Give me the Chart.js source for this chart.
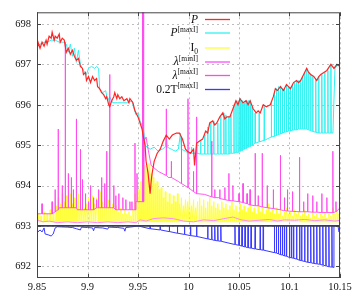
<!DOCTYPE html>
<html lang="en">
<head>
  <meta charset="UTF-8">
  <title>P, I0, lambda and T traces</title>
  <style>
    body { margin: 0; background: #fff; }
    canvas { display: block; }
  </style>
</head>
<body>
  <canvas id="chart" width="357" height="297"></canvas>

  <script src="https://cdn.jsdelivr.net/npm/chart.js"></script>
  <script>
    // axis ticks
    const xTicks = [9.85, 9.9, 9.95, 10, 10.05, 10.1, 10.15];
    const xTickLabels = ['9.85', '9.9', '9.95', '10', '10.05', '10.1', '10.15'];
    const yTicks = [692, 693, 694, 695, 696, 697, 698];

    // P : [x, y]
    const pSeries = [
      [9.850, 697.3], [9.851, 697.55], [9.853, 697.4], [9.855, 697.55], [9.857, 697.45],
      [9.859, 697.6], [9.860, 697.5], [9.862, 697.7], [9.864, 697.65], [9.865, 697.8],
      [9.867, 697.6], [9.868, 697.7], [9.870, 697.65], [9.872, 697.75], [9.873, 697.55],
      [9.875, 697.65], [9.877, 697.6], [9.878, 697.45], [9.879, 697.3], [9.881, 697.4],
      [9.883, 697.25], [9.885, 697.35], [9.887, 697.2], [9.889, 697.1], [9.891, 697.15],
      [9.893, 696.95], [9.895, 696.9], [9.896, 696.75], [9.898, 696.8], [9.899, 696.6],
      [9.901, 696.7], [9.903, 696.55], [9.905, 696.7], [9.907, 696.6], [9.909, 696.65],
      [9.910, 696.45], [9.912, 696.4], [9.914, 696.3], [9.916, 696.25], [9.918, 696.15],
      [9.919, 696.2], [9.921, 696.0], [9.922, 695.95], [9.924, 696.1], [9.926, 696.2],
      [9.927, 696.3], [9.929, 696.15], [9.930, 696.25], [9.932, 696.15], [9.934, 696.2],
      [9.936, 696.1], [9.939, 696.15], [9.941, 696.05], [9.942, 696.15], [9.945, 696.05],
      [9.947, 695.85], [9.950, 695.7], [9.954, 695.4], [9.955, 695.25], [9.957, 695.0],
      [9.958, 694.6], [9.960, 694.3], [9.962, 693.8], [9.963, 694.1], [9.964, 694.3],
      [9.966, 694.6], [9.969, 694.8], [9.972, 694.9], [9.975, 695.1], [9.978, 695.25],
      [9.981, 695.15], [9.984, 695.25], [9.988, 695.3], [9.991, 695.3], [9.994, 695.15],
      [9.997, 694.9], [9.999, 694.85], [10.002, 694.8], [10.005, 694.9], [10.006, 694.5],
      [10.008, 695.05], [10.011, 695.1], [10.014, 695.15], [10.017, 695.35], [10.019, 695.3],
      [10.021, 695.55], [10.024, 695.6], [10.026, 695.5], [10.028, 695.55], [10.031, 695.7],
      [10.034, 695.8], [10.036, 695.65], [10.038, 695.7], [10.041, 695.7], [10.044, 695.9],
      [10.047, 696.1], [10.049, 696.0], [10.051, 696.15], [10.054, 696.05], [10.057, 696.1],
      [10.059, 696.0], [10.061, 696.1], [10.064, 695.9], [10.067, 695.8], [10.069, 695.85],
      [10.071, 695.8], [10.074, 696.0], [10.077, 695.95], [10.081, 696.0], [10.084, 696.2],
      [10.086, 696.4], [10.088, 696.35], [10.091, 696.45], [10.094, 696.35], [10.097, 696.5],
      [10.099, 696.45], [10.101, 696.4], [10.104, 696.55], [10.107, 696.6], [10.109, 696.55],
      [10.111, 696.6], [10.114, 696.75], [10.117, 696.9], [10.119, 696.8], [10.121, 696.75],
      [10.124, 696.7], [10.127, 696.6], [10.129, 696.7], [10.131, 696.75], [10.134, 696.8],
      [10.137, 696.85], [10.141, 697.0], [10.144, 696.9], [10.147, 697.0], [10.150, 696.95]
    ];

    // P[maxI] : track before the spikes, spikes [x, base, top], end track
    const pMaxTrack = [
      [9.850, 697.45], [9.853, 697.5], [9.857, 697.55], [9.860, 697.55], [9.864, 697.6],
      [9.868, 697.6], [9.872, 697.55], [9.876, 697.55], [9.879, 697.5], [9.881, 697.3],
      [9.883, 697.5], [9.885, 697.2], [9.887, 697.4], [9.889, 697.05], [9.891, 697.35],
      [9.893, 697.0], [9.896, 696.85], [9.899, 696.75], [9.901, 696.9], [9.904, 696.95],
      [9.907, 696.9], [9.909, 696.95], [9.911, 696.9], [9.912, 696.4], [9.915, 696.3],
      [9.918, 696.35], [9.920, 696.1], [9.922, 696.2], [9.925, 696.05], [9.930, 696.05],
      [9.935, 696.05], [9.940, 696.05], [9.944, 696.1], [9.946, 695.9], [9.948, 695.75],
      [9.950, 695.8], [9.952, 695.6], [9.954, 695.5], [9.956, 695.3], [9.957, 695.0],
      [9.959, 694.95], [9.962, 694.9], [9.966, 694.95], [9.970, 694.85], [9.974, 694.9],
      [9.977, 694.95], [9.978, 695.25], [9.979, 694.95], [9.983, 694.9], [9.987, 694.85],
      [9.990, 694.9], [9.992, 695.3], [9.993, 694.9], [9.997, 694.85], [10.000, 694.8]
    ];
    const pMaxSpikes = [
      [10.003, 694.8, 694.95], [10.008, 694.8, 695.05], [10.012, 694.78, 695.1], [10.016, 694.78, 695.25],
      [10.019, 694.78, 695.45], [10.022, 694.78, 695.55], [10.025, 694.78, 695.6], [10.029, 694.78, 695.55],
      [10.032, 694.78, 695.7], [10.035, 694.78, 695.8], [10.037, 694.78, 695.75], [10.040, 694.78, 695.7],
      [10.042, 694.8, 695.75], [10.045, 694.8, 696.0], [10.047, 694.82, 696.1], [10.049, 694.82, 696.1],
      [10.051, 694.85, 696.15], [10.053, 694.87, 696.1], [10.055, 694.9, 696.05], [10.057, 694.92, 696.1],
      [10.059, 694.95, 696.1], [10.061, 694.97, 696.1], [10.063, 695.0, 695.95], [10.066, 695.05, 695.8],
      [10.070, 695.08, 695.8], [10.075, 695.12, 695.95], [10.082, 695.2, 696.05], [10.085, 695.22, 696.3],
      [10.087, 695.24, 696.4], [10.089, 695.26, 696.45], [10.091, 695.28, 696.45], [10.093, 695.3, 696.4],
      [10.095, 695.32, 696.4], [10.097, 695.33, 696.5], [10.099, 695.35, 696.45], [10.101, 695.35, 696.4],
      [10.103, 695.37, 696.5], [10.105, 695.38, 696.55], [10.107, 695.38, 696.6], [10.109, 695.4, 696.6],
      [10.111, 695.4, 696.6], [10.113, 695.4, 696.7], [10.115, 695.4, 696.8], [10.117, 695.4, 696.9],
      [10.119, 695.38, 696.8], [10.121, 695.36, 696.75], [10.123, 695.34, 696.7], [10.126, 695.32, 696.65],
      [10.129, 695.3, 696.7], [10.132, 695.3, 696.75], [10.135, 695.3, 696.8], [10.138, 695.3, 696.85],
      [10.141, 695.3, 697.0]
    ];
    const pMaxEnd = [[10.143, 695.3], [10.145, 696.9], [10.148, 697.0], [10.150, 696.95]];

    // I0 : base level and spike tops [x, top]
    const i0Base = 693.1;
    const i0Spikes = [
      [9.851, 693.3], [9.854, 693.25], [9.857, 693.35], [9.860, 693.3], [9.863, 693.4], [9.866, 693.3],
      [9.869, 693.5], [9.871, 693.7], [9.873, 693.55], [9.875, 693.8], [9.877, 693.6], [9.879, 693.75],
      [9.881, 693.5], [9.883, 693.8], [9.885, 693.55], [9.887, 693.7], [9.889, 693.6], [9.891, 693.8],
      [9.893, 693.5], [9.895, 693.6], [9.897, 693.45], [9.899, 693.55], [9.901, 693.7], [9.903, 693.5],
      [9.905, 693.75], [9.907, 693.55], [9.909, 693.7], [9.911, 693.5], [9.913, 693.85], [9.915, 693.6],
      [9.917, 693.7], [9.919, 693.5], [9.921, 693.65], [9.923, 693.45], [9.925, 693.55], [9.927, 693.4],
      [9.929, 693.5], [9.931, 693.35], [9.933, 693.45], [9.935, 693.3], [9.937, 693.4], [9.939, 693.3],
      [9.941, 693.35], [9.943, 693.25], [9.945, 693.4], [9.947, 693.8], [9.949, 693.6], [9.951, 693.9],
      [9.953, 694.1], [9.955, 694.3], [9.957, 694.5], [9.959, 694.4], [9.961, 694.55], [9.963, 694.3],
      [9.965, 694.2], [9.967, 694.05], [9.969, 694.1], [9.971, 693.9], [9.973, 693.95], [9.975, 693.7],
      [9.977, 693.85], [9.979, 693.6], [9.981, 693.8], [9.983, 693.55], [9.985, 693.75], [9.987, 693.6],
      [9.989, 693.8], [9.991, 693.55], [9.993, 693.7], [9.995, 693.5], [9.997, 693.65], [9.999, 693.6],
      [10.001, 693.75], [10.003, 693.5], [10.005, 693.65], [10.007, 693.45], [10.009, 693.6], [10.011, 693.7],
      [10.013, 693.5], [10.015, 693.65], [10.017, 693.45], [10.019, 693.6], [10.021, 693.7], [10.023, 693.5],
      [10.025, 693.6], [10.027, 693.45], [10.029, 693.55], [10.031, 693.4], [10.033, 693.6], [10.035, 693.45],
      [10.037, 693.55], [10.039, 693.4], [10.041, 693.5], [10.043, 693.6], [10.045, 693.4], [10.047, 693.5],
      [10.049, 693.35], [10.051, 693.55], [10.053, 693.4], [10.055, 693.5], [10.057, 693.35], [10.059, 693.45],
      [10.061, 693.55], [10.063, 693.35], [10.065, 693.45], [10.067, 693.3], [10.069, 693.5], [10.071, 693.35],
      [10.073, 693.45], [10.075, 693.3], [10.077, 693.4], [10.079, 693.55], [10.081, 693.35], [10.083, 693.4],
      [10.085, 693.3], [10.087, 693.45], [10.089, 693.3], [10.091, 693.4], [10.093, 693.25], [10.095, 693.35],
      [10.097, 693.45], [10.099, 693.3], [10.101, 693.35], [10.103, 693.25], [10.105, 693.4], [10.107, 693.3],
      [10.109, 693.35], [10.111, 693.25], [10.113, 693.3], [10.115, 693.4], [10.117, 693.25], [10.119, 693.3],
      [10.121, 693.2], [10.123, 693.35], [10.125, 693.25], [10.127, 693.3], [10.129, 693.2], [10.131, 693.3],
      [10.133, 693.25], [10.135, 693.35], [10.137, 693.2], [10.139, 693.3], [10.141, 693.25], [10.143, 693.45],
      [10.145, 693.3], [10.147, 693.4], [10.149, 693.3]
    ];

    // lambda[minI] : [x, y]
    const lamMinSeries = [
      [9.850, 693.15], [9.856, 693.1], [9.862, 693.12], [9.870, 693.08], [9.880, 693.1], [9.890, 693.08],
      [9.900, 693.1], [9.910, 693.08], [9.920, 693.1], [9.930, 693.08], [9.940, 693.1], [9.948, 693.08],
      [9.952, 693.15], [9.958, 693.12], [9.965, 693.18], [9.975, 693.2], [9.985, 693.18], [9.995, 693.12],
      [10.005, 693.1], [10.015, 693.15], [10.025, 693.13], [10.035, 693.18], [10.044, 693.22], [10.052, 693.15],
      [10.060, 693.12], [10.070, 693.14], [10.080, 693.16], [10.088, 693.12], [10.095, 693.15], [10.105, 693.14],
      [10.115, 693.16], [10.125, 693.13], [10.135, 693.15], [10.145, 693.12], [10.150, 693.14]
    ];

    // lambda[maxI] : level line [x, y] and spikes [x, base, top]
    const lamMaxLevel = [
      [9.850, 693.3], [9.860, 693.3], [9.868, 693.35], [9.872, 693.45], [9.880, 693.45], [9.890, 693.4],
      [9.900, 693.4], [9.910, 693.45], [9.920, 693.45], [9.930, 693.4], [9.940, 693.4], [9.946, 693.4],
      [9.948, 693.6], [9.954, 693.6], [9.956, 695.1], [9.958, 695.2], [9.960, 694.9], [9.963, 694.5],
      [9.970, 694.35], [9.980, 694.2], [9.990, 694.1], [10.000, 693.95], [10.005, 693.85], [10.016, 693.78],
      [10.030, 693.7], [10.044, 693.62], [10.061, 693.52], [10.078, 693.45], [10.094, 693.38], [10.110, 693.35],
      [10.143, 693.33], [10.148, 693.4], [10.150, 693.45]
    ];
    const lamMaxSpikes = [
      [9.855, 693.3, 693.55], [9.865, 693.3, 693.6], [9.868, 693.35, 693.9], [9.871, 693.4, 695.4],
      [9.875, 693.45, 694.0], [9.878, 693.45, 697.55], [9.881, 693.45, 694.3], [9.884, 693.45, 694.2],
      [9.886, 693.45, 693.9], [9.889, 693.45, 695.65], [9.893, 693.4, 694.9], [9.895, 693.4, 694.15],
      [9.898, 693.4, 693.8], [9.901, 693.4, 693.6], [9.903, 693.4, 694.0], [9.906, 693.4, 693.7],
      [9.909, 693.45, 693.65], [9.911, 693.45, 693.9], [9.914, 693.45, 694.2], [9.917, 693.45, 694.05],
      [9.919, 693.45, 694.85], [9.922, 693.45, 696.75], [9.926, 693.45, 694.0], [9.928, 693.4, 693.75],
      [9.931, 693.4, 693.8], [9.935, 693.4, 693.7], [9.938, 693.4, 693.65], [9.942, 693.4, 693.6],
      [9.944, 693.4, 693.6], [9.947, 693.4, 695.05], [9.949, 693.6, 694.3], [9.9545, 693.6, 698.4],
      [9.9555, 693.6, 698.4], [9.978, 694.25, 695.9], [9.983, 694.2, 694.6], [9.993, 694.05, 695.2],
      [9.9995, 693.95, 696.15], [10.005, 693.85, 694.35], [10.008, 693.8, 695.7], [10.023, 693.72, 695.1],
      [10.026, 693.7, 693.9], [10.031, 693.68, 693.9], [10.036, 693.65, 693.95], [10.040, 693.63, 694.3],
      [10.044, 693.62, 694.0], [10.050, 693.6, 693.8], [10.054, 693.58, 694.05], [10.058, 693.55, 693.8],
      [10.061, 693.52, 693.9], [10.066, 693.5, 694.8], [10.069, 693.5, 693.75], [10.073, 693.47, 694.8],
      [10.078, 693.45, 694.0], [10.084, 693.43, 693.9], [10.091, 693.4, 694.75], [10.095, 693.38, 693.7],
      [10.098, 693.37, 693.9], [10.103, 693.36, 693.85], [10.110, 693.35, 694.7], [10.114, 693.35, 693.6],
      [10.118, 693.35, 693.8], [10.123, 693.34, 693.75], [10.127, 693.34, 693.6], [10.132, 693.33, 693.8],
      [10.137, 693.33, 693.7], [10.143, 693.33, 694.85], [10.146, 693.35, 693.6]
    ];

    // 0.2T[maxI] : track, spikes [x, base, top], end track
    const tTrack = [
      [9.850, 692.95], [9.851, 692.85], [9.853, 692.9], [9.855, 692.85], [9.857, 692.95], [9.858, 692.8],
      [9.861, 692.78], [9.864, 692.75], [9.866, 692.8], [9.868, 692.95], [9.870, 692.98], [9.880, 692.97],
      [9.885, 692.96], [9.889, 692.93], [9.893, 692.9], [9.894, 692.97], [9.900, 692.96], [9.905, 692.95],
      [9.906, 692.88], [9.907, 692.96], [9.915, 692.95], [9.920, 692.92], [9.921, 692.97], [9.930, 692.96],
      [9.936, 692.94], [9.937, 692.87], [9.938, 692.96], [9.945, 692.98], [9.950, 693.0]
    ];
    const tSpikes = [
      [9.962, 692.93, 693.0], [9.972, 692.9, 693.0], [9.981, 692.86, 693.0], [9.989, 692.82, 693.0],
      [9.996, 692.79, 693.0], [10.002, 692.76, 693.0], [10.008, 692.74, 693.0], [10.019, 692.68, 693.0],
      [10.023, 692.66, 693.0], [10.026, 692.64, 693.0], [10.029, 692.63, 693.0], [10.032, 692.62, 693.0],
      [10.046, 692.54, 693.0], [10.050, 692.52, 693.0], [10.053, 692.5, 693.0], [10.056, 692.48, 693.0],
      [10.059, 692.46, 693.0], [10.062, 692.45, 693.0], [10.066, 692.43, 693.0], [10.071, 692.41, 693.0],
      [10.074, 692.4, 693.0], [10.085, 692.34, 693.0], [10.087, 692.33, 693.0], [10.089, 692.31, 693.0],
      [10.091, 692.29, 693.0], [10.093, 692.28, 693.0], [10.095, 692.26, 693.0], [10.097, 692.25, 693.0],
      [10.100, 692.22, 693.0], [10.102, 692.21, 693.0], [10.104, 692.2, 693.0], [10.107, 692.18, 693.0],
      [10.110, 692.15, 693.0], [10.112, 692.14, 693.0], [10.115, 692.12, 693.0], [10.118, 692.1, 693.0],
      [10.121, 692.09, 693.0], [10.124, 692.07, 693.0], [10.127, 692.06, 693.0], [10.130, 692.05, 693.0],
      [10.133, 692.03, 693.0], [10.136, 692.01, 693.0], [10.139, 691.99, 693.0], [10.142, 691.98, 693.0]
    ];
    const tEnd = [[10.1435, 691.97], [10.144, 693.0], [10.148, 693.0], [10.149, 692.85], [10.150, 692.9]];

    // reference level drawn across the plot
    const refLevel = [[9.85, 693.0], [10.15, 693.0]];

    // legend rows: label parts
    const legendLabels = [
      [{ t: 'P', it: true }],
      [{ t: 'P', it: true }, { t: '[maxI]', sup: true }],
      [{ t: 'I' }, { t: '0', sub: true }],
      [{ t: 'λ', it: true }, { t: '[minI]', sup: true }],
      [{ t: 'λ', it: true }, { t: '[maxI]', sup: true }],
      [{ t: '0.2T' }, { t: '[maxI]', sup: true }]
    ];

    const colors = {
      p: '#ff2626',
      pMax: '#30f2f2',
      i0: '#ffff3a',
      lamMin: '#ff8cff',
      lamMax: '#ff48ee',
      t: '#3a3aff'
    };

    const SERIF = '"Liberation Serif", "DejaVu Serif", serif';

    function pts(arr) {
      return arr.map(([x, y]) => ({ x, y }));
    }

    function spikePts(list, hw) {
      const out = [];
      list.forEach(([x, base, top]) => {
        out.push({ x: x - hw, y: base }, { x, y: top }, { x: x + hw, y: base });
      });
      return out;
    }

    const i0Data = spikePts(i0Spikes.map(([x, top]) => [x, i0Base, top]), 0.0006);
    const pMaxData = pts(pMaxTrack).concat(spikePts(pMaxSpikes, 0.00025), pts(pMaxEnd));
    const lamMaxData = [];
    // merge level line and spikes in x order
    lamMaxLevel.map(([x, y]) => ({ x, y, s: null }))
      .concat(lamMaxSpikes.map(s => ({ x: s[0], y: s[1], s })))
      .sort((a, b) => a.x - b.x)
      .forEach(p => {
        if (p.s) lamMaxData.push(...spikePts([p.s], 0.00015));
        else lamMaxData.push({ x: p.x, y: p.y });
      });
    const tData = pts(tTrack).concat(spikePts(tSpikes, 0.0003), pts(tEnd));

    function line(label, data, color, width, order) {
      return {
        label, data, order,
        borderColor: color,
        borderWidth: width,
        pointRadius: 0,
        tension: 0,
        fill: false
      };
    }

    const datasets = [
      line('P', pts(pSeries), colors.p, 1.2, 0),
      line('ref', pts(refLevel), '#3c3c5a', 1.6, 1),
      line('lamMax', lamMaxData, colors.lamMax, 0.9, 2),
      line('lamMin', pts(lamMinSeries), colors.lamMin, 1, 3),
      line('Pmax', pMaxData, colors.pMax, 1, 4),
      line('I0', i0Data, colors.i0, 1, 5),
      line('T', tData, colors.t, 1, 6)
    ];

    const legendLines = [
      { color: colors.p, width: 1.3 },
      { color: colors.pMax, width: 1.3 },
      { color: colors.i0, width: 1.3 },
      { color: colors.lamMin, width: 2 },
      { color: colors.lamMax, width: 1.3 },
      { color: colors.t, width: 1.3 }
    ];
    const legendRowY = [19, 32.5, 47.5, 61.5, 75, 89];

    function partFont(p) {
      const size = (p.sup || p.sub) ? 7.5 : 11.5;
      return (p.it ? 'italic ' : '') + size + 'px ' + SERIF;
    }

    const gridPlugin = {
      id: 'dottedGrid',
      beforeDatasetsDraw(chart) {
        const { ctx, chartArea: a, scales } = chart;
        ctx.save();
        ctx.strokeStyle = '#bdbdbd';
        ctx.lineWidth = 1;
        ctx.setLineDash([2, 3]);
        ctx.beginPath();
        xTicks.forEach(v => {
          const px = Math.round(scales.x.getPixelForValue(v)) + 0.5;
          ctx.moveTo(px, a.top); ctx.lineTo(px, a.bottom);
        });
        yTicks.forEach(v => {
          const py = Math.round(scales.y.getPixelForValue(v)) + 0.5;
          ctx.moveTo(a.left, py); ctx.lineTo(a.right, py);
        });
        ctx.stroke();
        ctx.restore();
      }
    };

    const legendPlugin = {
      id: 'richLegend',
      afterDraw(chart) {
        const ctx = chart.ctx;
        ctx.save();
        ctx.setLineDash([]);
        ctx.textBaseline = 'alphabetic';
        legendLabels.forEach((parts, i) => {
          const y = legendRowY[i];
          let w = 0;
          parts.forEach(p => { ctx.font = partFont(p); w += ctx.measureText(p.t).width; });
          let x = 198 - w;
          ctx.fillStyle = '#111';
          parts.forEach(p => {
            ctx.font = partFont(p);
            const dy = p.sup ? -4.5 : (p.sub ? 2.5 : 0);
            ctx.fillText(p.t, x, y + 3.8 + dy);
            x += ctx.measureText(p.t).width;
          });
          ctx.strokeStyle = legendLines[i].color;
          ctx.lineWidth = legendLines[i].width;
          ctx.beginPath();
          ctx.moveTo(205, y + 0.5);
          ctx.lineTo(230, y + 0.5);
          ctx.stroke();
        });
        ctx.restore();
      }
    };

    const framePlugin = {
      id: 'frame',
      afterDraw(chart) {
        const { ctx, chartArea: a, scales } = chart;
        ctx.save();
        ctx.setLineDash([]);
        ctx.strokeStyle = '#444';
        ctx.lineWidth = 1;
        ctx.strokeRect(a.left + 0.5, a.top + 0.5, a.right - a.left - 1, a.bottom - a.top - 1);
        ctx.beginPath();
        xTicks.forEach(v => {
          const px = Math.round(scales.x.getPixelForValue(v)) + 0.5;
          ctx.moveTo(px, a.bottom); ctx.lineTo(px, a.bottom - 4);
          ctx.moveTo(px, a.top); ctx.lineTo(px, a.top + 4);
        });
        yTicks.forEach(v => {
          const py = Math.round(scales.y.getPixelForValue(v)) + 0.5;
          ctx.moveTo(a.left, py); ctx.lineTo(a.left + 4, py);
          ctx.moveTo(a.right, py); ctx.lineTo(a.right - 4, py);
        });
        ctx.stroke();
        ctx.restore();
      }
    };

    new Chart(document.getElementById('chart').getContext('2d'), {
      type: 'line',
      data: { datasets },
      options: {
        responsive: false,
        animation: false,
        events: [],
        normalized: true,
        layout: { padding: { top: 8, right: 17, left: 0, bottom: 0 } },
        plugins: { legend: { display: false }, tooltip: { enabled: false } },
        scales: {
          x: {
            type: 'linear',
            min: 9.85,
            max: 10.15,
            afterBuildTicks: s => { s.ticks = xTicks.map(v => ({ value: v })); },
            afterFit: s => { s.height = 19; },
            border: { display: false },
            grid: { display: false, drawTicks: false },
            ticks: {
              autoSkip: false,
              maxRotation: 0,
              padding: 3,
              color: '#111',
              font: { family: SERIF, size: 10.5 },
              callback: (v, i) => xTickLabels[i]
            }
          },
          y: {
            type: 'linear',
            min: 691.71,
            max: 698.29,
            afterBuildTicks: s => { s.ticks = yTicks.map(v => ({ value: v })); },
            afterFit: s => { s.width = 37; },
            border: { display: false },
            grid: { display: false, drawTicks: false },
            ticks: {
              padding: 6,
              color: '#111',
              font: { family: SERIF, size: 10.5 },
              callback: v => String(v)
            }
          }
        }
      },
      plugins: [gridPlugin, framePlugin, legendPlugin]
    });
  </script>
</body>
</html>
